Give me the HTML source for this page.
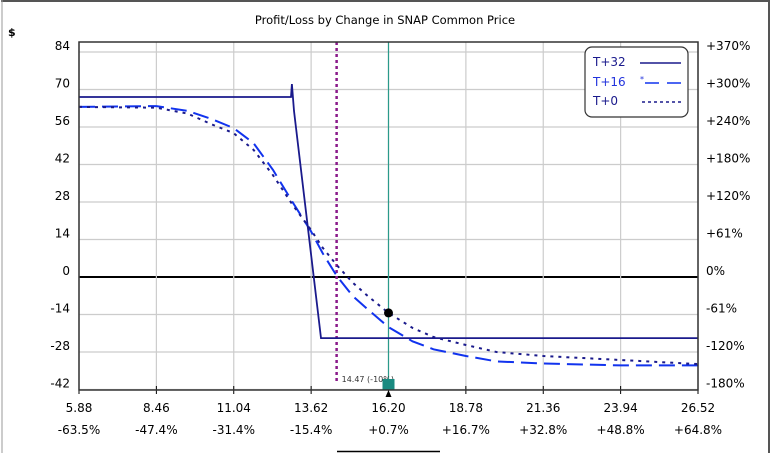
<!DOCTYPE html>
<html><head><meta charset="utf-8"><style>
body{margin:0;background:#fff;}
svg text{font-family:"DejaVu Sans","Liberation Sans",sans-serif;}
</style></head><body>
<svg width="771" height="453" viewBox="0 0 771 453">
<rect x="0" y="0" width="771" height="453" fill="#fff"/>
<line x1="1" y1="1" x2="770" y2="1" stroke="#555" stroke-width="2"/>
<line x1="769" y1="0" x2="769" y2="453" stroke="#555" stroke-width="2"/>
<line x1="2" y1="0" x2="2" y2="453" stroke="#999" stroke-width="1"/>
<line x1="337" y1="451.5" x2="440" y2="451.5" stroke="#000" stroke-width="1.5"/>
<text x="385" y="24" font-size="11.5" text-anchor="middle">Profit/Loss by Change in SNAP Common Price</text>
<text x="8" y="36" font-size="11" font-weight="bold">$</text>
<g id="grid"></g>
<g id="axes"></g>
<g id="series"></g>
<rect x="79" y="42" width="619" height="348" fill="none" stroke="#333" stroke-width="1.5"/>
<g>
<rect x="585" y="47" width="103" height="70" rx="7" fill="#fff" stroke="#333" stroke-width="1.2"/>
<g><text x="593" y="66" font-size="12" fill="#1a1a8c">T+32</text><line x1="640" y1="63" x2="681" y2="63" stroke="#1a1a8c" stroke-width="1.5"/></g>
<g><text x="593" y="86" font-size="12" fill="#2233dd">T+16</text><text x="640" y="82" font-size="8" fill="#2233dd">*</text><line x1="645" y1="83" x2="681" y2="83" stroke="#1133ee" stroke-width="1.5" stroke-dasharray="14 8 4 0"/></g>
<g><text x="593" y="105" font-size="12" fill="#1a1a8c">T+0</text><line x1="642" y1="102" x2="681" y2="102" stroke="#1a1a8c" stroke-width="1.5" stroke-dasharray="3 3"/></g>
</g>
</svg>
<script>
const xTickLabels=["5.88","8.46","11.04","13.62","16.20","18.78","21.36","23.94","26.52"];
const xPctLabels=["-63.5%","-47.4%","-31.4%","-15.4%","+0.7%","+16.7%","+32.8%","+48.8%","+64.8%"];
const yTicks=[84,70,56,42,28,14,0,-14,-28,-42];
const yPctLabels=["+370%","+300%","+240%","+180%","+120%","+61%","0%","-61%","-120%","-180%"];
const t32Price=[5.88,12.95,12.98,13.05,13.95,26.52];
const t32Val=[67.2,67.2,72,62,-22.8,-22.8];
const t16Price=[5.88,8.46,9.5,10.3,11.04,11.7,12.35,13.0,13.62,14.0,14.47,15.0,15.5,16.2,17.0,17.7,18.78,19.8,21.36,23.94,26.52];
const t16Val=[63.5,63.8,62,59,55.6,50,40,28,17,9,0.5,-7,-12,-18.7,-24,-27,-29.5,-31.5,-32.3,-33,-33];
const t0Price=[5.88,8.46,9.5,10.3,11.04,11.7,12.35,13.0,13.62,14.0,14.47,15.0,15.5,16.2,17.0,17.7,18.78,19.8,21.36,23.94,26.52];
const t0Val=[63.5,63.2,61,57,53.7,47.5,38,27,17.5,11,4.5,-2,-7,-13.4,-19,-22.4,-25.4,-28,-29.5,-31,-32.5];
const currentPrice=16.2, currentPL=-13.4, breakevenPrice=14.47;

const NS="http://www.w3.org/2000/svg";
const X0=79,X1=698,PMIN=5.88,PMAX=26.52;
const Y0=277,K=225/84;
function xs(p){return X0+(p-PMIN)/(PMAX-PMIN)*(X1-X0);}
function ys(v){return Y0-v*K;}
function mk(tag,attrs,parent,txt){const e=document.createElementNS(NS,tag);for(const k in attrs)e.setAttribute(k,attrs[k]);if(txt!==undefined)e.textContent=txt;parent.appendChild(e);return e;}
const grid=document.getElementById('grid'),axes=document.getElementById('axes'),ser=document.getElementById('series');
yTicks.forEach((v,i)=>{
  const y=ys(v);
  const l=mk('line',{x1:X0,x2:X1,y1:y,y2:y,stroke:v===0?'#000':'#ccc','stroke-width':v===0?2:1.2},grid);
  
  
  const t=mk('text',{x:70,y:y-2,'font-size':12,'text-anchor':'end'},axes,String(v));
  
  
  const r=mk('text',{x:706,y:y-2,'font-size':12},axes,yPctLabels[i]);
  
  
});
xTickLabels.forEach((s,i)=>{
  const p=parseFloat(s),x=xs(p);
  const l=mk('line',{x1:x,x2:x,y1:42,y2:390,stroke:'#ccc','stroke-width':1.2},grid);
  
  
  const tk=mk('line',{x1:x,x2:x,y1:386,y2:394,stroke:'#000','stroke-width':1},axes);
  
  
  const t=mk('text',{x:x,y:412,'font-size':12,'text-anchor':'middle'},axes,s);
  
  
  const t2=mk('text',{x:x,y:434,'font-size':12,'text-anchor':'middle'},axes,xPctLabels[i]);
  
  
});
const bx=xs(breakevenPrice);
const be=mk('line',{x1:bx,x2:bx,y1:42,y2:384,stroke:'#8a1a8a','stroke-width':2.5,'stroke-dasharray':'3 3'},ser);


const cx=xs(currentPrice);
const cl=mk('line',{x1:cx,x2:cx,y1:42,y2:390,stroke:'#2a9a8a','stroke-width':1.2},ser);


const lb=mk('text',{x:bx+5,y:382,'font-size':8,fill:'#333'},ser,breakevenPrice.toFixed(2)+" (-10%)");


function path(ps,vs){return ps.map((p,i)=>(i?'L':'M')+xs(p).toFixed(1)+','+ys(vs[i]).toFixed(1)).join(' ');}
const s16=mk('path',{d:path(t16Price,t16Val),fill:'none',stroke:'#1133ee','stroke-width':2,'stroke-dasharray':'16 7'},ser);


const s0=mk('path',{d:path(t0Price,t0Val),fill:'none',stroke:'#1a1a8c','stroke-width':2,'stroke-dasharray':'3 5'},ser);


const s32=mk('path',{d:path(t32Price,t32Val),fill:'none',stroke:'#1a1a8c','stroke-width':1.8},ser);


const dot=mk('circle',{cx:cx,cy:ys(currentPL),r:4.5,fill:'#000'},ser);


const sq=mk('rect',{x:cx-6,y:379,width:12,height:11,fill:'#1a8a80'},ser);


const tri=mk('path',{d:`M${cx-3},397 L${cx+3},397 L${cx},390 Z`,fill:'#000'},ser);


</script>
</body></html>
